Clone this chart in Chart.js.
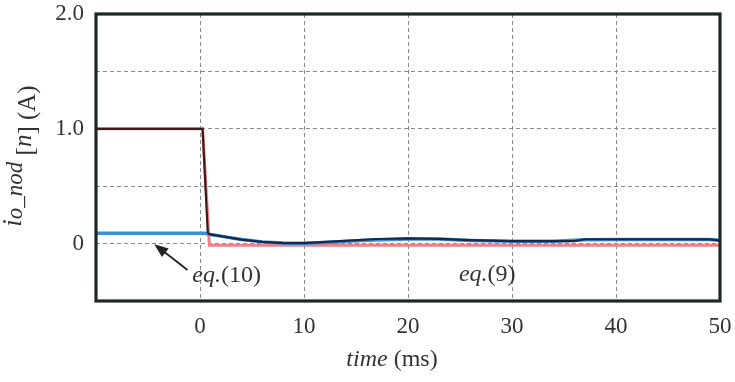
<!DOCTYPE html>
<html>
<head>
<meta charset="utf-8">
<script src="https://cdn.jsdelivr.net/npm/chart.js@4"></script>
<style>
  body { margin: 0; background: #fff; }
  canvas { display: block; }
</style>
</head>
<body>
<canvas id="chart" width="735" height="382"></canvas>
<script>
// time axis (ms) and currents (A)
const timeEq9 = [-10, 0.25, 0.9, 50];
const eq9 = [1.0, 1.0, -0.015, -0.015];

const timeEq10 = [-10, 0.5, 1, 2, 4, 6, 8, 10, 13, 16, 20, 23, 26, 30, 34, 37, 40, 45, 49, 50];
const eq10 = [0.09, 0.09, 0.08, 0.065, 0.035, 0.015, 0.005, 0.004, 0.015, 0.03, 0.04, 0.04, 0.028, 0.02, 0.02, 0.033, 0.035, 0.035, 0.035, 0.03];

const timeMeasured = [-10, 0.25, 0.75, 1, 2, 4, 6, 8, 10, 13, 17, 20, 23, 26, 30, 36, 37, 45, 49, 50];
const measured = [1.0, 1.0, 0.09, 0.08, 0.065, 0.035, 0.015, 0.005, 0.005, 0.02, 0.04, 0.045, 0.042, 0.03, 0.022, 0.022, 0.038, 0.038, 0.036, 0.025];

const yTickLabels = { "0": "0", "1": "1.0", "2": "2.0" };

const pts = (xs, ys) => xs.map((x, i) => ({ x: x, y: ys[i] }));

const SERIF = "'Liberation Serif', 'DejaVu Serif', serif";
Chart.defaults.font.family = SERIF;

// draws a run of text pieces with mixed italic / size / baseline shift
function drawRich(ctx, parts, x, y, align) {
  let total = 0;
  parts.forEach(p => {
    ctx.font = (p.italic ? "italic " : "") + p.size + "px " + SERIF;
    p.w = ctx.measureText(p.text).width;
    total += p.w;
  });
  let cx = align === "center" ? x - total / 2 : x;
  ctx.textBaseline = "middle";
  ctx.textAlign = "left";
  parts.forEach(p => {
    ctx.font = (p.italic ? "italic " : "") + p.size + "px " + SERIF;
    ctx.fillText(p.text, cx, y + (p.dy || 0));
    cx += p.w;
  });
}

const decorations = {
  id: "decorations",
  afterDraw(chart) {
    const ctx = chart.ctx;
    const a = chart.chartArea;
    const xs = chart.scales.x, ys = chart.scales.y;
    ctx.save();

    // frame
    ctx.strokeStyle = "#1f2626";
    ctx.lineWidth = 3.2;
    ctx.strokeRect(a.left, a.top, a.right - a.left, a.bottom - a.top);

    ctx.fillStyle = "#333";
    // annotations
    drawRich(ctx, [
      { text: "eq.", italic: true, size: 24 },
      { text: "(10)", size: 24 }
    ], xs.getPixelForValue(-0.74), ys.getPixelForValue(-0.28), "left");
    drawRich(ctx, [
      { text: "eq.", italic: true, size: 24 },
      { text: "(9)", size: 24 }
    ], xs.getPixelForValue(24.9), ys.getPixelForValue(-0.27), "left");

    // arrow to the eq.(10) trace
    const x0 = xs.getPixelForValue(-1.2), y0 = ys.getPixelForValue(-0.23);
    const x1 = xs.getPixelForValue(-4.4), y1 = ys.getPixelForValue(-0.005);
    const ang = Math.atan2(y1 - y0, x1 - x0);
    ctx.strokeStyle = "#222";
    ctx.fillStyle = "#222";
    ctx.lineWidth = 1.8;
    ctx.beginPath();
    ctx.moveTo(x0, y0);
    ctx.lineTo(x1 - 8 * Math.cos(ang), y1 - 8 * Math.sin(ang));
    ctx.stroke();
    ctx.beginPath();
    ctx.moveTo(x1, y1);
    ctx.lineTo(x1 - 14 * Math.cos(ang) + 5.5 * Math.sin(ang), y1 - 14 * Math.sin(ang) - 5.5 * Math.cos(ang));
    ctx.lineTo(x1 - 14 * Math.cos(ang) - 5.5 * Math.sin(ang), y1 - 14 * Math.sin(ang) + 5.5 * Math.cos(ang));
    ctx.closePath();
    ctx.fill();

    // axis titles
    ctx.fillStyle = "#333";
    drawRich(ctx, [
      { text: "time", italic: true, size: 24 },
      { text: " (ms)", size: 24 }
    ], 392, 360, "center");

    ctx.translate(28, 156);
    ctx.rotate(-Math.PI / 2);
    drawRich(ctx, [
      { text: "i", italic: true, size: 27, dy: -14 },
      { text: "o_nod", italic: true, size: 23, dy: -12 },
      { text: " [", size: 25, dy: -2 },
      { text: "n", italic: true, size: 25, dy: -4 },
      { text: "] (A)", size: 25 }
    ], 0, 0, "center");
    ctx.restore();
  }
};

new Chart(document.getElementById("chart"), {
  type: "line",
  data: {
    datasets: [
      {
        label: "measured",
        data: pts(timeMeasured, measured),
        borderWidth: 2.2,
        segment: {
          borderColor: c => (c.p0.parsed.x < 0.5 ? "#3a1c1c" : "#17294a")
        },
        borderColor: "#17294a",
        pointRadius: 0,
        order: 1
      },
      {
        label: "eq.(10)",
        data: pts(timeEq10, eq10),
        borderColor: "#3a8fd6",
        borderWidth: 3.5,
        pointRadius: 0,
        order: 2
      },
      {
        label: "eq.(9)",
        data: pts(timeEq9, eq9),
        borderColor: "#f08088",
        borderWidth: 3,
        pointRadius: 0,
        order: 3
      }
    ]
  },
  options: {
    responsive: false,
    animation: false,
    layout: { padding: { left: 0, top: 14, right: 15, bottom: 0 } },
    plugins: {
      legend: { display: false },
      tooltip: { enabled: false }
    },
    scales: {
      x: {
        type: "linear",
        min: -10,
        max: 50,
        afterFit: s => {
          s.height = 81;
          s.paddingLeft = 0;
          s.paddingRight = 0;
        },
        ticks: {
          stepSize: 10,
          padding: 12,
          color: "#333",
          font: { size: 23 },
          maxRotation: 0,
          callback: v => (v < 0 ? "" : String(v))
        },
        grid: { color: "#8a8a8a", lineWidth: 1, drawTicks: false },
        border: { display: false, dash: [4, 3] }
      },
      y: {
        min: -0.5,
        max: 2.0,
        afterFit: s => {
          s.width = 96;
          s.paddingTop = 0;
          s.paddingBottom = 0;
        },
        ticks: {
          stepSize: 0.5,
          padding: 12,
          color: "#333",
          font: { size: 23 },
          callback: v => yTickLabels[String(v)] || ""
        },
        grid: { color: "#8a8a8a", lineWidth: 1, drawTicks: false },
        border: { display: false, dash: [4, 3] }
      }
    }
  },
  plugins: [decorations]
});
</script>
</body>
</html>
